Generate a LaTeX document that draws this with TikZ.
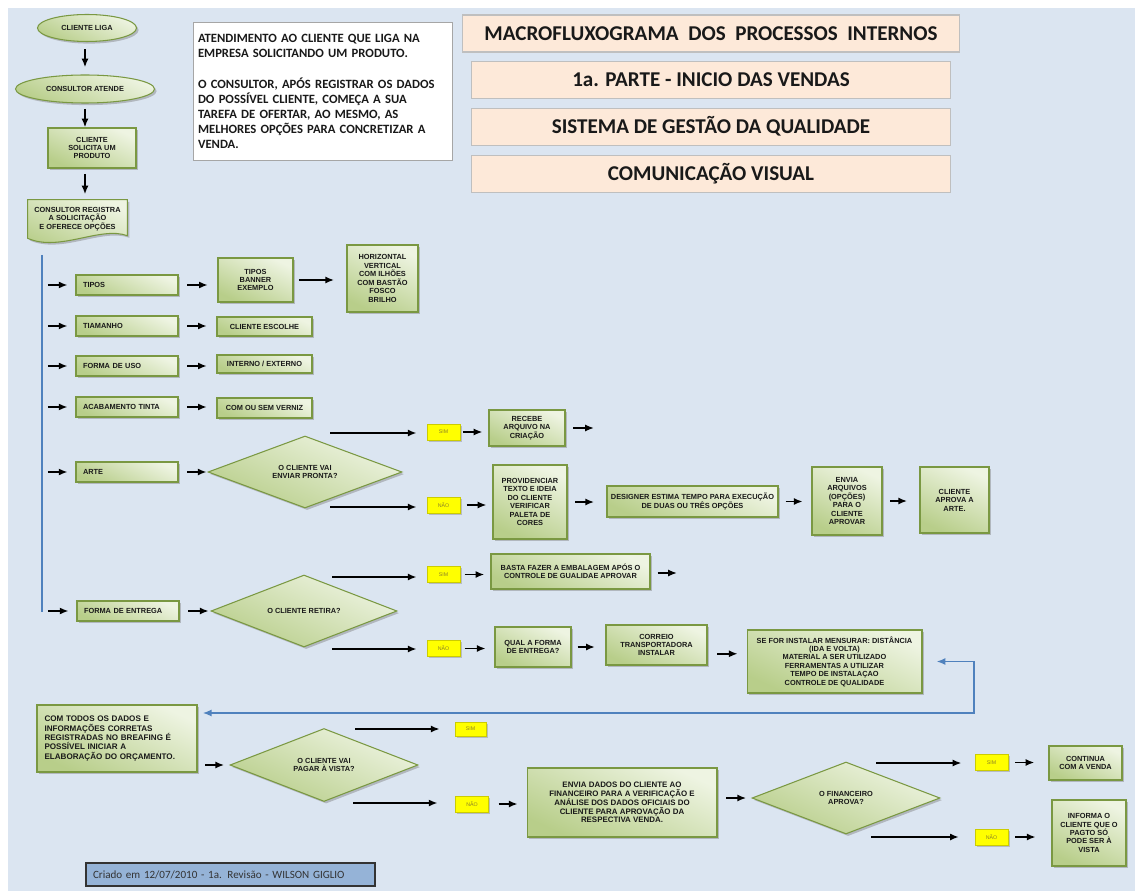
\documentclass[tikz,border=0pt]{standalone}
\usepackage{fontspec}
\setmainfont{Liberation Sans}
\newfontfamily\calfont{Carlito}
\usepackage{tikz}
\usetikzlibrary{shapes.geometric, arrows.meta, positioning, shadows, backgrounds}
\definecolor{bgblue}{RGB}{219,229,241}
\definecolor{glight}{RGB}{238,244,226}
\definecolor{gdark}{RGB}{184,206,138}
\definecolor{gedge}{RGB}{122,152,66}
\definecolor{peach}{RGB}{253,233,217}
\definecolor{yel}{RGB}{255,255,0}
\definecolor{yeltext}{RGB}{140,130,40}
\definecolor{lineblue}{RGB}{79,129,189}
\definecolor{tagblue}{RGB}{149,179,215}

\begin{document}
\begin{tikzpicture}[
    x=0.02cm, y=-0.02cm,
    every node/.style={font=\fontsize{4.2}{4.8}\selectfont\bfseries, text=black!90, inner sep=1pt},
    shade/.style={draw=gedge, line width=0.6pt, shading=axis, top color=glight, bottom color=gdark,
                  shading angle=-25, drop shadow={shadow xshift=1.2pt, shadow yshift=-1.2pt, opacity=0.45}},
    blk/.style={shade, align=center},
    sideblk/.style={shade, align=left, text width=1.76cm, inner xsep=0.14cm, minimum height=0.4cm},
    oval/.style={shade, ellipse, inner sep=0pt},
    dec/.style={shade, diamond, aspect=2.6, inner sep=0pt, align=center},
    yesno/.style={fill=yel, draw=yel!80!black, line width=0.4pt, minimum width=0.66cm, minimum height=0.32cm,
                  font=\fontsize{3}{3.5}\selectfont, text=yeltext,
                  drop shadow={shadow xshift=1pt, shadow yshift=-1pt, opacity=0.4}},
    ttl/.style={fill=peach, draw=black!25, line width=0.6pt, minimum height=0.74cm,
                font=\calfont\bfseries\fontsize{12}{14}\selectfont, text=black!90},
    note/.style={fill=white, draw=black!35, line width=0.6pt, align=left,
                 font=\calfont\bfseries\fontsize{7.2}{8.6}\selectfont, text=black!90},
    tag/.style={fill=tagblue, draw=black!80, line width=0.8pt, align=left,
                font=\calfont\fontsize{6.3}{7.5}\selectfont, text=black!80},
    line/.style={draw=black, line width=1.1pt, -{Latex[length=5pt,width=4pt]}},
    feed/.style={draw=lineblue, line width=0.9pt}
]
\useasboundingbox (0,0) rectangle (1135,891);
\begin{pgfonlayer}{background}
  \fill[white] (0,0) rectangle (1135,891);
  \fill[bgblue] (8,8) rectangle (1135,891);
\end{pgfonlayer}

% -------- Start of the call --------
\node[oval, minimum width=1.98cm, minimum height=0.54cm] (cliga)   at (87,28) {CLIENTE LIGA};
\node[oval, minimum width=2.78cm, minimum height=0.56cm] (catende) at (85,89) {CONSULTOR ATENDE};
\node[blk, minimum width=1.76cm, minimum height=0.8cm] (csolicita) at (92,148) {CLIENTE\\SOLICITA UM\\PRODUTO};
\node[minimum width=1.98cm, minimum height=0.76cm, align=center] (creg) at (77.5,219)
     {CONSULTOR REGISTRA\\A SOLICITAÇÃO\\E OFERECE OPÇÕES};
\begin{pgfonlayer}{background}
  \path[shade] (creg.north west) -- (creg.north east) -- ([yshift=1.5pt]creg.south east)
       .. controls +(-27,-10) and +(32,14) .. (creg.south west) -- cycle;
\end{pgfonlayer}

\draw[line, shorten <=4pt, shorten >=4pt] (catende.north |- cliga.south) -- (catende.north);
\draw[line, shorten <=3pt] (catende.south) -- (catende.south |- csolicita.north);
\draw[line, shorten <=3pt, shorten >=3pt] (catende.south |- csolicita.south) -- (catende.south |- creg.north);

% -------- Notes and titles --------
\node[note, text width=5cm, inner xsep=0.09cm, minimum height=2.76cm, anchor=north west] (atend) at (193,22)
     {ATENDIMENTO AO CLIENTE QUE LIGA NA\\EMPRESA SOLICITANDO UM PRODUTO.\\[8.6pt]
      O CONSULTOR, APÓS REGISTRAR OS DADOS\\DO POSSÍVEL CLIENTE, COMEÇA A SUA\\
      TAREFA DE OFERTAR, AO MESMO, AS\\MELHORES OPÇÕES PARA CONCRETIZAR A\\VENDA.};

\node[ttl, minimum width=9.96cm] (ttlmacro) at (711,33.5) {MACROFLUXOGRAMA\ \ DOS\ \ PROCESSOS\ \ INTERNOS};
\node[ttl, minimum width=9.58cm, below=0.16cm of ttlmacro] (ttlparte) {1a. PARTE - INICIO DAS VENDAS};
\node[ttl, minimum width=9.58cm, below=0.18cm of ttlparte] (ttlsgq) {SISTEMA DE GESTÃO DA QUALIDADE};
\node[ttl, minimum width=9.58cm, below=0.18cm of ttlsgq] (ttlcv) {COMUNICAÇÃO VISUAL};

% -------- Options rail --------
\coordinate (railtop) at (42,255);
\coordinate (railbot) at (42,612);
\draw[feed] (railtop) -- (railbot);

\node[sideblk] (tipos)   at (127,285) {TIPOS};
\node[sideblk] (tam)     at (127,326) {TIAMANHO};
\node[sideblk] (uso)     at (127,366) {FORMA DE USO};
\node[sideblk] (acab)    at (127,407) {ACABAMENTO TINTA};
\node[sideblk] (arte)    at (127,472) {ARTE};
\node[sideblk] (entrega) at (128,611) {FORMA DE ENTREGA};

\foreach \n in {tipos,tam,uso,acab,arte,entrega}
  \draw[line, shorten <=3.4pt, shorten >=4.5pt] (railtop |- \n.west) -- (\n.west);

\node[blk, minimum width=1.5cm, minimum height=0.88cm]  (tipex)  at (255.5,280) {TIPOS\\BANNER\\EXEMPLO};
\node[blk, minimum width=1.42cm, minimum height=1.34cm] (tiphv)  at (382.5,278.5)
     {HORIZONTAL\\VERTICAL\\COM ILHÕES\\COM BASTÃO\\FOSCO\\BRILHO};
\node[blk, minimum width=1.9cm, minimum height=0.38cm]  (tamesc) at (264.5,326.5) {CLIENTE ESCOLHE};
\node[blk, minimum width=1.9cm, minimum height=0.36cm]  (usoie)  at (264.5,364) {INTERNO / EXTERNO};
\node[blk, minimum width=1.9cm, minimum height=0.4cm]   (acabv)  at (264.5,408) {COM OU SEM VERNIZ};

\draw[line, shorten <=5pt, shorten >=5.5pt] (tipos.east) -- (tipos.east -| tipex.west);
\draw[line, shorten <=5pt, shorten >=5.5pt] (tam.east) -- (tam.east -| tamesc.west);
\draw[line, shorten <=5pt, shorten >=5.5pt] (uso.east) -- (uso.east -| usoie.west);
\draw[line, shorten <=5pt, shorten >=5.5pt] (acab.east) -- (acab.east -| acabv.west);
\draw[line, shorten <=3pt, shorten >=7pt] (tipex.east) -- (tipex.east -| tiphv.west);

% -------- Arte --------
\node[dec, minimum width=3.88cm, minimum height=1.44cm] (dart) at (305,472) {O CLIENTE VAI\\ENVIAR PRONTA?};
\draw[line, shorten <=5pt, shorten >=0.5pt] (arte.east) -- (dart.west);
\coordinate (dartsim) at (330,433);
\coordinate (dartnao) at (330,507);
\node[yesno] (simA) at (443.5,432) {SIM};
\node[yesno] (naoA) at (443.5,505) {NÃO};
\draw[line, shorten >=5.7pt] (dartsim) -- (simA.west |- dartsim);
\draw[line, shorten >=5.7pt] (dartnao) -- (naoA.west |- dartnao);

\node[blk, minimum width=1.52cm, minimum height=0.72cm] (recebe) at (527,428) {RECEBE\\ARQUIVO NA\\CRIAÇÃO};
\coordinate (recebeout) at (594,428);
\node[blk, minimum width=1.48cm, minimum height=1.48cm] (provid) at (530,502)
     {PROVIDENCIAR\\TEXTO E IDEIA\\DO CLIENTE\\VERIFICAR\\PALETA DE\\CORES};
\node[blk, minimum width=3.42cm, minimum height=0.62cm] (designer) at (692.5,501.5)
     {DESIGNER ESTIMA TEMPO PARA EXECUÇÃO\\DE DUAS OU TRÊS OPÇÕES};
\node[blk, minimum width=1.4cm, minimum height=1.36cm] (enviaarq) at (847,501)
     {ENVIA\\ARQUIVOS\\(OPÇÕES)\\PARA O\\CLIENTE\\APROVAR};
\node[blk, minimum width=1.38cm, minimum height=1.32cm] (aprova) at (954.5,500) {CLIENTE\\APROVA A\\ARTE.};

\draw[line, shorten <=1.5pt, shorten >=3.4pt] (simA.east) -- (simA.east -| recebe.west);
\draw[line, shorten <=4.5pt] (recebe.east) -- (recebeout);
\draw[line, shorten <=3.5pt, shorten >=3.4pt] (naoA.east) -- (naoA.east -| provid.west);
\draw[line, shorten <=4.5pt, shorten >=7pt] (provid.east) -- (provid.east -| designer.west);
\draw[line, shorten <=4pt, shorten >=5pt] (designer.east) -- (designer.east -| enviaarq.west);
\draw[line, shorten <=4.5pt, shorten >=7pt] (enviaarq.east) -- (enviaarq.east -| aprova.west);

% -------- Forma de entrega --------
\node[dec, minimum width=3.72cm, minimum height=1.44cm] (dret) at (304,611) {O CLIENTE RETIRA?};
\draw[line, shorten <=5pt, shorten >=1pt] (entrega.east) -- (dret.west);
\coordinate (dretsim) at (332,577);
\coordinate (dretnao) at (332,649);
\node[yesno] (simB) at (443.5,574.5) {SIM};
\node[yesno] (naoB) at (443.5,648.5) {NÃO};
\draw[line, shorten >=5.7pt] (dretsim) -- (simB.west |- dretsim);
\draw[line, shorten >=5.7pt] (dretnao) -- (naoB.west |- dretnao);

\node[blk, minimum width=3.18cm, minimum height=0.7cm] (basta) at (570.5,571.5)
     {BASTA FAZER A EMBALAGEM APÓS O\\CONTROLE DE GUALIDAE APROVAR};
\coordinate (bastaout) at (677,573);
\node[blk, minimum width=1.52cm, minimum height=0.8cm] (qual) at (533,647) {QUAL A FORMA\\DE ENTREGA?};
\node[blk, minimum width=2.02cm, minimum height=0.8cm] (correio) at (656.5,645) {CORREIO\\TRANSPORTADORA\\INSTALAR};
\node[blk, minimum width=3.5cm, minimum height=1.26cm] (instalar) at (834.5,661.5)
     {SE FOR INSTALAR MENSURAR: DISTÂNCIA\\(IDA E VOLTA)\\MATERIAL A SER UTILIZADO\\FERRAMENTAS A UTILIZAR\\
      TEMPO DE INSTALAÇAO\\CONTROLE DE QUALIDADE};

\draw[line, shorten <=2.5pt, shorten >=3.5pt] (simB.east) -- (simB.east -| basta.west);
\draw[line, shorten <=4pt] (basta.east |- bastaout) -- (bastaout);
\draw[line, shorten <=2.5pt, shorten >=5pt] (naoB.east) -- (naoB.east -| qual.west);
\draw[line, shorten <=3.5pt, shorten >=6pt] (qual.east) -- (qual.east -| correio.west);
\draw[line, shorten <=5.5pt, shorten >=5pt] ([yshift=-5pt]correio.east) -- ([yshift=-5pt]correio.east -| instalar.west);

% -------- Orcamento --------
\node[blk, minimum width=3.2cm, minimum height=1.34cm, align=left, text width=2.9cm, inner xsep=0.15cm,
      font=\fontsize{4.6}{5.4}\selectfont\bfseries] (comtodos) at (117,738.5)
     {COM TODOS OS DADOS E\\INFORMAÇÕES CORRETAS\\REGISTRADAS NO BREAFING É\\POSSÍVEL INICIAR A\\ELABORAÇÃO DO ORÇAMENTO.};
\coordinate (loopc) at (974,713);
\draw[feed, {Latex[length=5pt,width=4pt]}-{Latex[length=5pt,width=4pt]}, shorten <=8pt, shorten >=3pt]
     (instalar.east) -| (loopc) -- (loopc -| comtodos.east);

\node[dec, minimum width=3.76cm, minimum height=1.46cm] (dpag) at (324,765) {O CLIENTE VAI\\PAGAR À VISTA?};
\draw[line, shorten <=4.5pt, shorten >=3pt] (dpag.west -| comtodos.east) -- (dpag.west);
\coordinate (dpagsim) at (355,729);
\coordinate (dpagnao) at (353,803);
\node[yesno, minimum width=0.62cm, minimum height=0.28cm] (simC) at (470.5,729) {SIM};
\node[yesno] (naoC) at (472,804) {NÃO};
\draw[line, shorten >=8.5pt] (dpagsim) -- (simC.west |- dpagsim);
\draw[line, shorten >=10pt] (dpagnao) -- (naoC.west |- dpagnao);

\node[blk, minimum width=3.8cm, minimum height=1.38cm, font=\fontsize{4.5}{5}\selectfont\bfseries] (enviadados) at (622,802.5)
     {ENVIA DADOS DO CLIENTE AO\\FINANCEIRO PARA A VERIFICAÇÃO E\\ANÁLISE DOS DADOS OFICIAIS DO\\
      CLIENTE PARA APROVAÇÃO DA\\RESPECTIVA VENDA.};
\draw[line, shorten <=5.5pt, shorten >=5pt] (naoC.east) -- (naoC.east -| enviadados.west);

\node[dec, minimum width=3.76cm, minimum height=1.44cm] (dfin) at (846,798) {O FINANCEIRO\\APROVA?};
\draw[line, shorten <=5pt, shorten >=3pt] (dfin.west -| enviadados.east) -- (dfin.west);
\coordinate (dfinsim) at (876,763);
\coordinate (dfinnao) at (871,837);
\node[yesno] (simD) at (991.5,762.5) {SIM};
\node[yesno] (naoD) at (991.5,837) {NÃO};
\draw[line, shorten >=7.5pt] (dfinsim) -- (simD.west |- dfinsim);
\draw[line, shorten >=9pt] (dfinnao) -- (naoD.west |- dfinnao);

\node[blk, minimum width=1.46cm, minimum height=0.68cm] (continua) at (1085.5,763) {CONTINUA\\COM A VENDA};
\node[blk, minimum width=1.48cm, minimum height=1.32cm] (informa) at (1089,833)
     {INFORMA O\\CLIENTE QUE O\\PAGTO SÓ\\PODE SER À\\VISTA};
\draw[line, shorten <=4pt, shorten >=8pt] (simD.east) -- (simD.east -| continua.west);
\draw[line, shorten <=4pt, shorten >=9pt] (naoD.east) -- (naoD.east -| informa.west);

% -------- Revision tag --------
\node[tag, text width=5.5cm, inner xsep=0.14cm, minimum height=0.46cm] (criado) at (230.5,874.5)
     {Criado em 12/07/2010 - 1a. Revisão - WILSON GIGLIO};

\end{tikzpicture}
\end{document}
